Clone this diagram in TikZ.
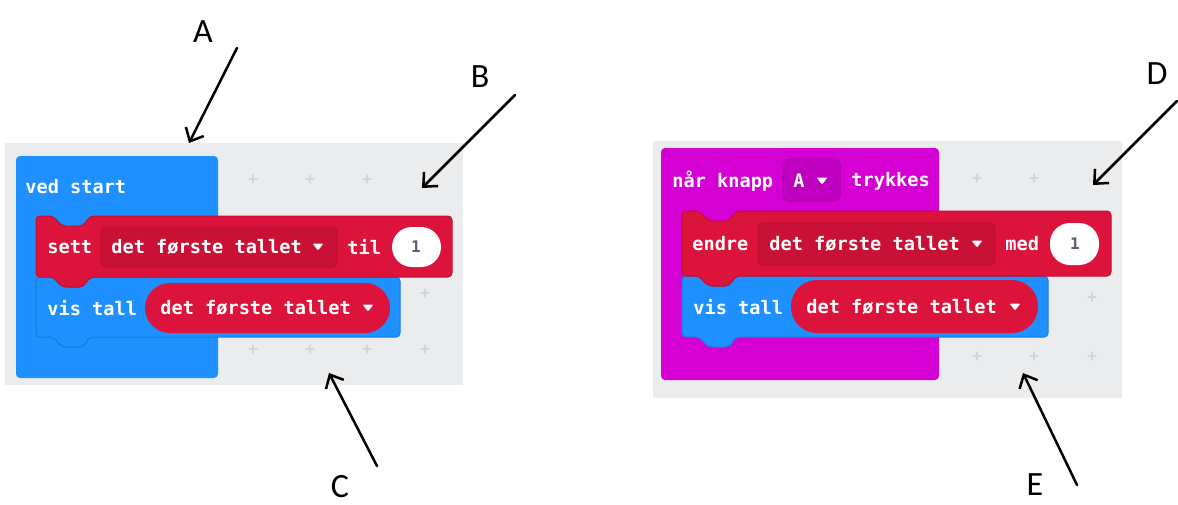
\documentclass[tikz,border=0pt]{standalone}
\usepackage{fontspec}
\newfontfamily\codefont{DejaVu Sans Mono}
\newfontfamily\markfont{Carlito}
\usetikzlibrary{arrows.meta}

\definecolor{canvas}{HTML}{EAECEE}
\definecolor{basicblue}{HTML}{1E90FF}
\definecolor{basicedge}{HTML}{1A7AD8}
\definecolor{varred}{HTML}{DC143C}
\definecolor{varedge}{HTML}{BE1032}
\definecolor{vardrop}{HTML}{C91136}
\definecolor{inputpink}{HTML}{D400D4}
\definecolor{inputdrop}{HTML}{BF00BF}
\definecolor{inputedge}{HTML}{A900A9}
\definecolor{numgray}{HTML}{575E75}
\definecolor{plusgray}{HTML}{D3D6D9}

% statement block outline: notch on top, tab below (left, top, right, bottom)
\newcommand\stmtshape[4]{(#1,#2) -- (#1+17,#2) -- (#1+26,#2+10) -- (#1+47,#2+10) -- (#1+54,#2) -- (#3,#2) -- (#3,#4) -- (#1+54,#4) -- (#1+47,#4+10) -- (#1+26,#4+10) -- (#1+17,#4) -- (#1,#4) -- cycle}
% small dropdown triangle
\newcommand\dropmark[2]{\fill[white,rounded corners=0.6pt] (#1-5.5,#2-3.5) -- (#1+5.5,#2-3.5) -- (#1,#2+3.5) -- cycle;}
% workspace grid cross
\newcommand\gridplus[2]{\draw[plusmark] (#1-4,#2) -- (#1+4,#2) (#1,#2-4) -- (#1,#2+4);}

\begin{document}
\begin{tikzpicture}[x=0.5pt,y=-0.5pt,>={Straight Barb[length=5.5pt,width=10pt]},line join=round,line cap=round,
	code/.style={font=\codefont\bfseries\fontsize{9.3}{11}\selectfont,text=white,inner sep=0pt,anchor=west},
	num/.style={font=\codefont\bfseries\fontsize{8}{10}\selectfont,text=numgray,inner sep=0pt},
	letter/.style={font=\markfont\fontsize{17}{20}\selectfont,inner sep=0pt},
	pointer/.style={->,line width=1.25pt},
	plusmark/.style={plusgray,line width=0.6pt}]
	\useasboundingbox (0,0) rectangle (1178,504);

	% ---- left workspace: ved start
	\fill[canvas] (5,143) rectangle (463,385);
	\gridplus{253}{179} \gridplus{310}{179} \gridplus{367}{179}
	\gridplus{425}{293}
	\gridplus{253}{349} \gridplus{310}{349} \gridplus{367}{349} \gridplus{425}{349}
	\fill[basicblue,rounded corners=2pt] (16,156) rectangle (218,378);
	\node[code] (vedstart) at (25,187) {ved start};
	\filldraw[basicblue,draw=basicedge,line width=0.5pt,rounded corners=2pt] \stmtshape{36}{277}{400}{337};
	\filldraw[varred,draw=varedge,line width=0.5pt,rounded corners=2pt] \stmtshape{36}{216}{452}{277};
	\node[code] (sett) at (47,247) {sett};
	\filldraw[vardrop,draw=varedge,line width=0.5pt,rounded corners=2.5pt] (101,227) rectangle (337,267);
	\node[code] (settvar) at (111,247) {det første tallet};
	\dropmark{318}{247}
	\node[code] (til) at (347,247) {til};
	\fill[white,rounded corners=10pt] (392,227) rectangle (441,267);
	\node[num] (tilval) at (416,247) {1};
	\node[code] (vistall) at (47,308) {vis tall};
	\fill[varred,rounded corners=12.5pt] (145,283) rectangle (390,333);
	\node[code] (visvar) at (160,308) {det første tallet};
	\dropmark{368}{308}

	% ---- right workspace: når knapp A trykkes
	\fill[canvas] (653,141) rectangle (1122,398);
	\gridplus{977}{178} \gridplus{1034}{178}
	\gridplus{1092}{297}
	\gridplus{977}{356} \gridplus{1034}{356} \gridplus{1092}{356}
	\fill[inputpink,rounded corners=2pt] (661,148) rectangle (939,380);
	\node[code] (naar) at (672,181) {når knapp};
	\filldraw[inputdrop,draw=inputedge,line width=0.5pt,rounded corners=2.5pt] (783,159) rectangle (840,201);
	\node[code] (knapp) at (793,181) {A};
	\dropmark{822}{181}
	\node[code] (trykkes) at (851,181) {trykkes};
	\filldraw[basicblue,draw=basicedge,line width=0.5pt,rounded corners=2pt] \stmtshape{682}{276}{1048}{337};
	\filldraw[varred,draw=varedge,line width=0.5pt,rounded corners=2pt] \stmtshape{682}{211}{1111}{276};
	\node[code] (endre) at (692,244) {endre};
	\filldraw[vardrop,draw=varedge,line width=0.5pt,rounded corners=2.5pt] (758,223) rectangle (995,265);
	\node[code] (endrevar) at (769,244) {det første tallet};
	\dropmark{977}{244}
	\node[code] (med) at (1005,244) {med};
	\fill[white,rounded corners=10pt] (1050,223) rectangle (1099,265);
	\node[num] (medval) at (1075,244) {1};
	\node[code] (vistallB) at (693,307) {vis tall};
	\fill[varred,rounded corners=13pt] (791,280) rectangle (1038,333);
	\node[code] (visvarB) at (806,307) {det første tallet};
	\dropmark{1015}{307}

	% ---- letters and pointers
	\node[letter] (labA) at (203,32) {A};
	\node[letter] (labB) at (480,77) {B};
	\node[letter] (labC) at (340,487) {C};
	\node[letter] (labD) at (1157,74) {D};
	\node[letter] (labE) at (1035,485) {E};
	\coordinate (tailA) at (237,48);   \coordinate (tipA) at (189,143);
	\coordinate (tailB) at (515,95);   \coordinate (tipB) at (422,188);
	\coordinate (tailC) at (377,466);  \coordinate (tipC) at (329,373);
	\coordinate (tailD) at (1177,101); \coordinate (tipD) at (1093,185);
	\coordinate (tailE) at (1077,485); \coordinate (tipE) at (1023,373);
	\draw[pointer] (tailA) -- (tipA);
	\draw[pointer] (tailB) -- (tipB);
	\draw[pointer] (tailC) -- (tipC);
	\draw[pointer] (tailD) -- (tipD);
	\draw[pointer] (tailE) -- (tipE);
\end{tikzpicture}
\end{document}
